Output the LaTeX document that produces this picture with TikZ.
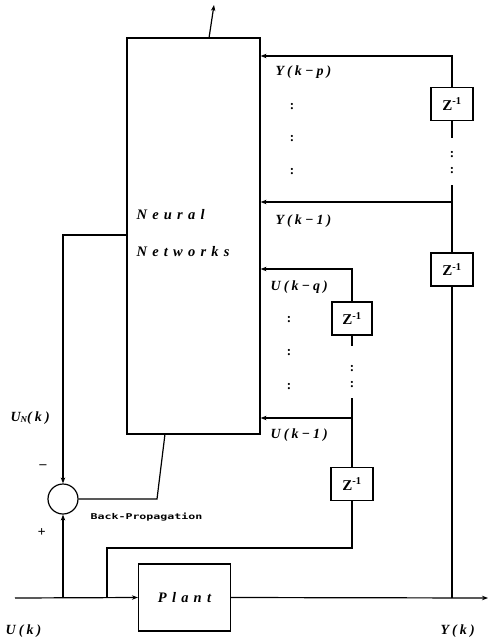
\documentclass[tikz,border=0pt]{standalone}
\usepackage{fontspec}
\setmainfont{Liberation Serif}
\newfontfamily\labfont[LetterSpace=22]{Liberation Serif}
\newfontfamily\nnfont[LetterSpace=36]{Liberation Serif}
\newfontfamily\bpfont{DejaVu Sans Mono}
\usetikzlibrary{arrows.meta}
\begin{document}
\begin{tikzpicture}[x=1pt,y=-1pt,line width=1.2pt,
  >={Stealth[length=6pt,width=4.5pt]},
  box/.style={draw,line width=1.2pt,inner sep=0pt},
  zbox/.style={box,minimum width=42,minimum height=33,font=\bfseries\fontsize{15}{16}\selectfont},
  lab/.style={font=\labfont\bfseries\itshape\fontsize{14}{16}\selectfont,inner sep=0pt,anchor=west},
  nnlab/.style={font=\nnfont\bfseries\itshape\fontsize{14.5}{16}\selectfont,inner sep=0pt,anchor=west},
  colon/.style={font=\bfseries\fontsize{13}{15}\selectfont,inner sep=0pt}]
\useasboundingbox (0,0) rectangle (490,642);
% blocks
\node[box,minimum width=133,minimum height=396] (nn) at (193.5,236) {};
\node[nnlab] (tneural) at (136,215) {Neural};
\node[nnlab] (tnet) at (136,252) {Networks};
\node[zbox] (z1) at (452,104) {Z\textsuperscript{-1}};
\node[zbox] (z2) at (452,269.5) {Z\textsuperscript{-1}};
\node[zbox,minimum width=40] (z3) at (352,318.5) {Z\textsuperscript{-1}};
\node[zbox] (z4) at (352,484) {Z\textsuperscript{-1}};
\node[draw,circle,minimum size=30,inner sep=0pt,line width=1.2pt] (sum) at (63,499) {};
\node[box,minimum width=92,minimum height=67,font=\nnfont\bfseries\itshape\fontsize{14.5}{16}\selectfont] (plant) at (184.5,597.5) {Plant};
% coordinates
\coordinate (yp) at (452,56);
\coordinate (ky1) at (452,202);
\coordinate (yd1) at (452,185);
\coordinate (yd2) at (452,138);
\coordinate (jy) at (452,598);
\coordinate (yout) at (488,598);
\coordinate (uq) at (352,269);
\coordinate (u1) at (352,418);
\coordinate (ud1) at (352,398);
\coordinate (ud2) at (352,346);
\coordinate (ju) at (107,598);
\coordinate (uc) at (107,548);
\coordinate (uin) at (15,598);
\coordinate (js) at (63,598);
\coordinate (nl) at (127,235);
\coordinate (bpa) at (165,434);
\coordinate (bpb) at (157,499);
\coordinate (nnt) at (209,38);
\coordinate (out) at (214,5);
% connectors
\draw[->] (nnt) -- (out);
\draw[->] (z1.north) -- (yp) -- (nn.east |- yp);
\draw (z1.south) -- (yd2);
\draw (yd1) -- (ky1);
\draw[->] (z2.north) -- (ky1) -- (nn.east |- ky1);
\draw (jy) -- (z2.south);
\draw[->] (z3.north) -- (uq) -- (nn.east |- uq);
\draw (z3.south) -- (ud2);
\draw (ud1) -- (u1);
\draw[->] (z4.north) -- (u1) -- (nn.east |- u1);
\draw (ju) -- (uc) -| (z4.south);
\draw[->] (uin) -- (plant.west);
\draw[->] (plant.east) -- (yout);
\draw[->] (js) -- (sum.south);
\draw[->] (nl) -| (sum.north);
\draw (bpa) -- (bpb) -- (sum.east);
% dots on delay lines
\node[colon] (c1) at (452,155) {:};
\node[colon] (c2) at (452,171) {:};
\node[colon] (c3) at (352,369) {:};
\node[colon] (c4) at (352,385) {:};
% labels
\node[lab] (lyp) at (275,72) {Y(k−p)};
\node[colon] (d1) at (292,107) {:};
\node[colon] (d2) at (292,139) {:};
\node[colon] (d3) at (292,172) {:};
\node[lab] (ly1) at (275,221) {Y(k−1)};
\node[lab] (luq) at (270,287) {U(k−q)};
\node[colon] (d4) at (289,320) {:};
\node[colon] (d5) at (289,353) {:};
\node[colon] (d6) at (289,387) {:};
\node[lab] (lu1) at (270,435) {U(k−1)};
\node[lab] (lun) at (10,418) {U\raisebox{-1.5pt}{\fontsize{9}{10}\selectfont N}(k)};
\node[lab] (lminus) at (39,467) {–};
\node[lab] (lplus) at (37,533) {+};
\node[inner sep=0pt,anchor=west,font=\bpfont\bfseries\fontsize{8}{9}\selectfont] (lbp) at (90,517) {\scalebox{1.45}[1]{Back-Propagation}};
\node[lab] (luk) at (5,631) {U(k)};
\node[lab] (lyk) at (440,631) {Y(k)};
\end{tikzpicture}
\end{document}
